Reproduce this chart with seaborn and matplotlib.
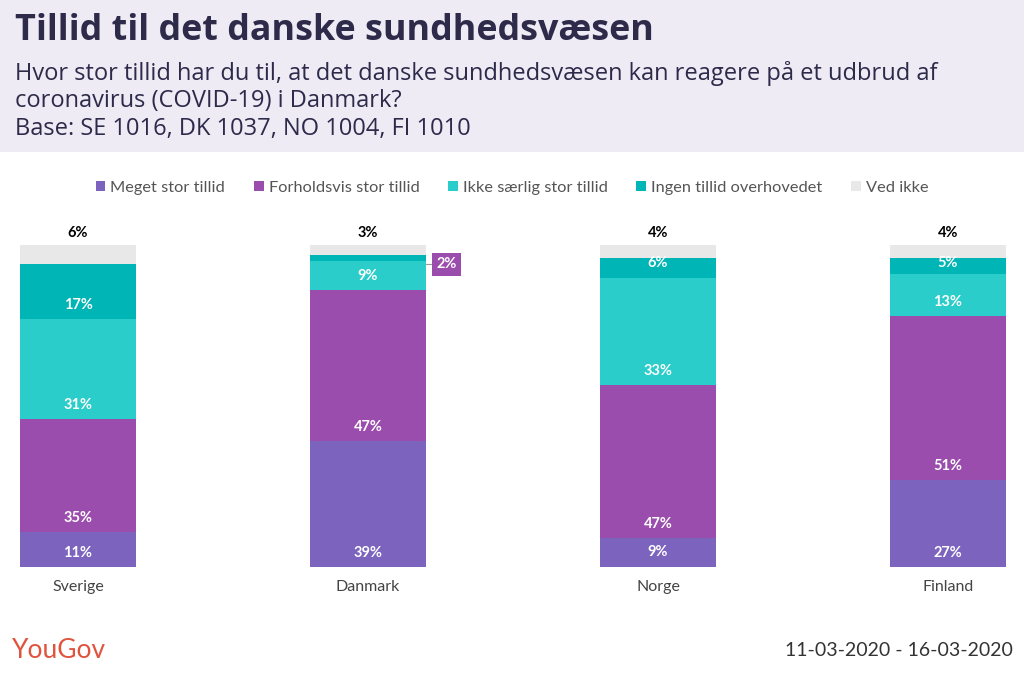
import numpy as np
import pandas as pd
import matplotlib
matplotlib.use("Agg")
import matplotlib.pyplot as plt
import seaborn as sns
from matplotlib.patches import Rectangle

countries = ["Sverige", "Danmark", "Norge", "Finland"]
series = ["Meget stor tillid", "Forholdsvis stor tillid", "Ikke særlig stor tillid",
          "Ingen tillid overhovedet", "Ved ikke"]
meget = [11, 39, 9, 27]
forholdsvis = [35, 47, 47, 51]
ikke = [31, 9, 33, 13]
ingen = [17, 2, 6, 5]
ved_ikke = [6, 3, 4, 4]
colors = ["#7B63BE", "#9B4DAD", "#2ACDC9", "#00B5B5", "#E8E8E8"]

title = "Tillid til det danske sundhedsvæsen"
subtitle = ["Hvor stor tillid har du til, at det danske sundhedsvæsen kan reagere på et udbrud af",
            "coronavirus (COVID-19) i Danmark?",
            "Base: SE 1016, DK 1037, NO 1004, FI 1010"]
date_text = "11-03-2020 - 16-03-2020"

sns.set_theme(style="white")
plt.rcParams["font.family"] = ["Lato", "DejaVu Sans"]

W, H = 1024, 675
fig = plt.figure(figsize=(W / 100, H / 100), dpi=100)
fig.patch.set_facecolor("white")

# header band
fig.patches.append(Rectangle((0, 1 - 152 / H), 1, 152 / H, transform=fig.transFigure,
                             facecolor="#EEEBF5", edgecolor="none", zorder=0))
fig.text(15 / W, 1 - 31 / H, title, fontsize=25.8, fontweight="bold", color="#2D2A4A",
         va="center", ha="left", family=["Open Sans", "DejaVu Sans"])
for i, line in enumerate(subtitle):
    fig.text(15 / W, 1 - (73 + 28 * i) / H, line, fontsize=17, color="#2D2A4A",
             va="center", ha="left", family=["Open Sans", "DejaVu Sans"])

vals = np.array([meget, forholdsvis, ikke, ingen, ved_ikke], dtype=float)
totals = vals.sum(axis=0)
pct = vals / totals * 100
cum = np.cumsum(pct, axis=0)

ax_bottom = (H - 567) / H
ax_top = (H - 245) / H
ax = fig.add_axes([0, ax_bottom, 1, ax_top - ax_bottom])
ax.set_facecolor("none")

df = pd.DataFrame({"country": countries})
for k in range(4, -1, -1):
    df["cum"] = cum[k]
    sns.barplot(data=df, x="country", y="cum", color=colors[k], width=0.4,
                saturation=1, ax=ax, order=countries, linewidth=0)

ax.set_xlim(-78 / 290, (W - 78) / 290)
ax.set_ylim(0, 100)
ax.axis("off")

px = 100 / 322.0  # data units per pixel vertically
for j, c in enumerate(countries):
    for k in range(4):
        lo = cum[k - 1][j] if k > 0 else 0
        hi = cum[k][j]
        if c == "Danmark" and k == 3:
            continue
        h = hi - lo
        y = lo + 14 * px if h / px > 34 else (lo + hi) / 2
        if k == 3 and h / px < 25:
            y = hi - 5 * px
        ax.text(j, y, f"{int(vals[k][j])}%", ha="center", va="center", color="white",
                fontsize=10.5, fontweight="bold")
    ax.text(j, 100 + 12 * px, f"{int(vals[4][j])}%", ha="center", va="center",
            color="black", fontsize=10.5, fontweight="bold", clip_on=False)
    ax.text(j, -20 * px, c, ha="center", va="center", color="#444444", fontsize=11.5,
            clip_on=False)

# Danmark small segment callout
j = 1
ymid = cum[2][j] - 1
ax.plot([j + 0.2, j + 0.22], [ymid, ymid], color="#999999", lw=0.8, clip_on=False)
ax.text(j + 0.27, ymid, f"{int(vals[3][j])}%", ha="center", va="center", color="white",
        fontsize=10.5, fontweight="bold", clip_on=False,
        bbox=dict(boxstyle="square,pad=0.3", facecolor=colors[1], edgecolor="none"))

# legend
handles = [Rectangle((0, 0), 1, 1, facecolor=col, edgecolor="none") for col in colors]
leg = fig.legend(handles, series, loc="center", bbox_to_anchor=(0.5, 1 - 188 / H), ncol=5,
                 frameon=False, fontsize=11.8, handlelength=0.6, handleheight=0.6,
                 handletextpad=0.3, columnspacing=1.75)
for t in leg.get_texts():
    t.set_color("#555555")

fig.text(12 / W, 1 - 650 / H, "YouGov", fontsize=19, color="#E0533D", va="center",
         ha="left")
fig.text(1013 / W, 1 - 651 / H, date_text, fontsize=14, color="#333333", va="center",
         ha="right")

fig.savefig("out.png", dpi=100)
